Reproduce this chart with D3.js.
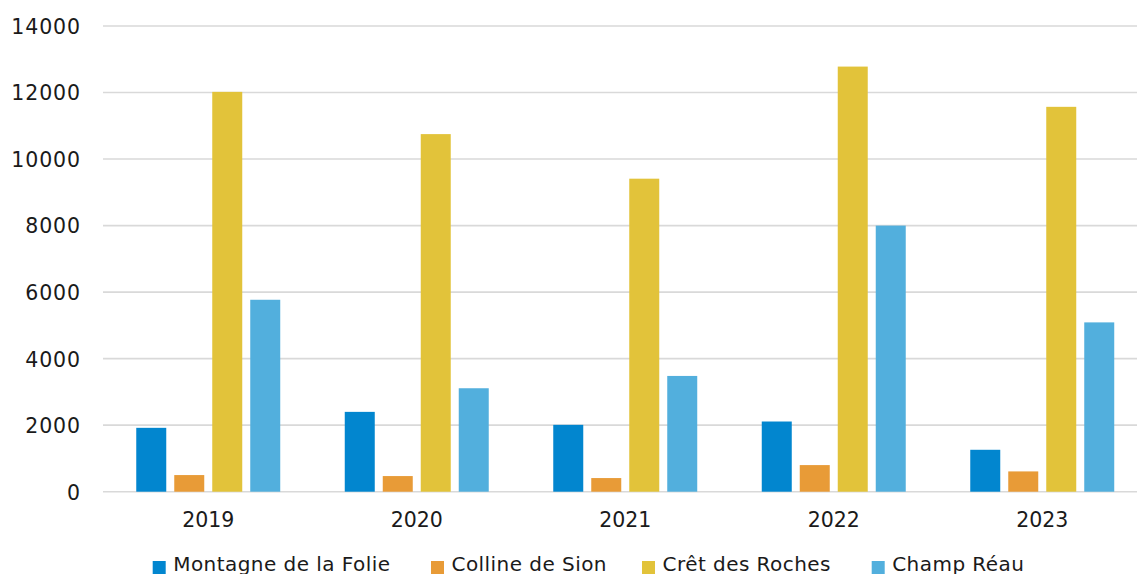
<!DOCTYPE html>
<html>
<head>
<meta charset="utf-8">
<script src="https://cdn.jsdelivr.net/npm/d3@7"></script>
<style>
  html, body { margin: 0; padding: 0; background: #fff; overflow: hidden; }
  svg { display: block; }
  text { font-family: "DejaVu Sans", sans-serif; fill: #1a1a1a; }
</style>
</head>
<body>
<svg id="chart" width="1137" height="574"></svg>
<script>
const years = ["2019", "2020", "2021", "2022", "2023"];
const seriesNames = ["Montagne de la Folie", "Colline de Sion", "Crêt des Roches", "Champ Réau"];
const montagne = [1920, 2400, 2010, 2110, 1260];
const colline  = [500, 470, 410, 800, 610];
const cret     = [12020, 10750, 9410, 12780, 11570];
const champ    = [5770, 3110, 3480, 8000, 5090];
const yTicks = [0, 2000, 4000, 6000, 8000, 10000, 12000, 14000];
const colors = ["#0286cf", "#e89b37", "#e2c33a", "#52afdd"];

const values = [montagne, colline, cret, champ];
const svg = d3.select("#chart");

const y = d3.scaleLinear().domain([0, 14000]).range([491.7, 26]);
const x0 = d3.scaleBand().domain(years).range([104, 1146.5]).padding(0);
const x1 = d3.scaleBand().domain(seriesNames).range([0, x0.bandwidth()])
  .paddingInner(0.2105).paddingOuter(0.849);

// gridlines
svg.append("g").selectAll("line").data(yTicks).join("line")
  .attr("x1", 103).attr("x2", 1137)
  .attr("y1", d => y(d)).attr("y2", d => y(d))
  .attr("stroke", "#d9d9d9").attr("stroke-width", 1.6);

// y axis labels
const yAxis = d3.axisLeft(y).tickValues(yTicks).tickSize(0).tickPadding(0).tickFormat(d3.format("d"));
const gy = svg.append("g").attr("transform", "translate(81,0)").call(yAxis);
gy.select(".domain").remove();
gy.selectAll("text").attr("font-size", 20.5).attr("fill", "#1a1a1a")
  .attr("font-family", "DejaVu Sans, sans-serif").attr("dy", "0.36em")
  .attr("letter-spacing", "0.9px");

// bars
const groups = svg.append("g").selectAll("g").data(years).join("g")
  .attr("transform", d => `translate(${x0(d)},0)`);
groups.selectAll("rect")
  .data((yr, i) => seriesNames.map((s, j) => ({ s, j, v: values[j][i] })))
  .join("rect")
  .attr("x", d => x1(d.s))
  .attr("width", x1.bandwidth())
  .attr("y", d => y(d.v))
  .attr("height", d => y(0) - y(d.v))
  .attr("fill", d => colors[d.j]);

// x axis labels
const xAxis = d3.axisBottom(x0).tickSize(0).tickPadding(0);
const gx = svg.append("g").attr("transform", "translate(0,527)").call(xAxis);
gx.select(".domain").remove();
gx.selectAll("text").attr("font-size", 20.5).attr("fill", "#1a1a1a")
  .attr("font-family", "DejaVu Sans, sans-serif").attr("dy", 0);

// legend
const legendX = [152.7, 431, 642, 871.7];
const leg = svg.append("g").selectAll("g").data(seriesNames).join("g")
  .attr("transform", (d, i) => `translate(${legendX[i]},0)`);
leg.append("rect").attr("x", 0).attr("y", 561).attr("width", 13).attr("height", 13)
  .attr("fill", (d, i) => colors[i]);
leg.append("text").attr("x", 20.5).attr("y", 570.5).attr("font-size", 20)
  .attr("letter-spacing", "0.45px")
  .text(d => d);
</script>
</body>
</html>
